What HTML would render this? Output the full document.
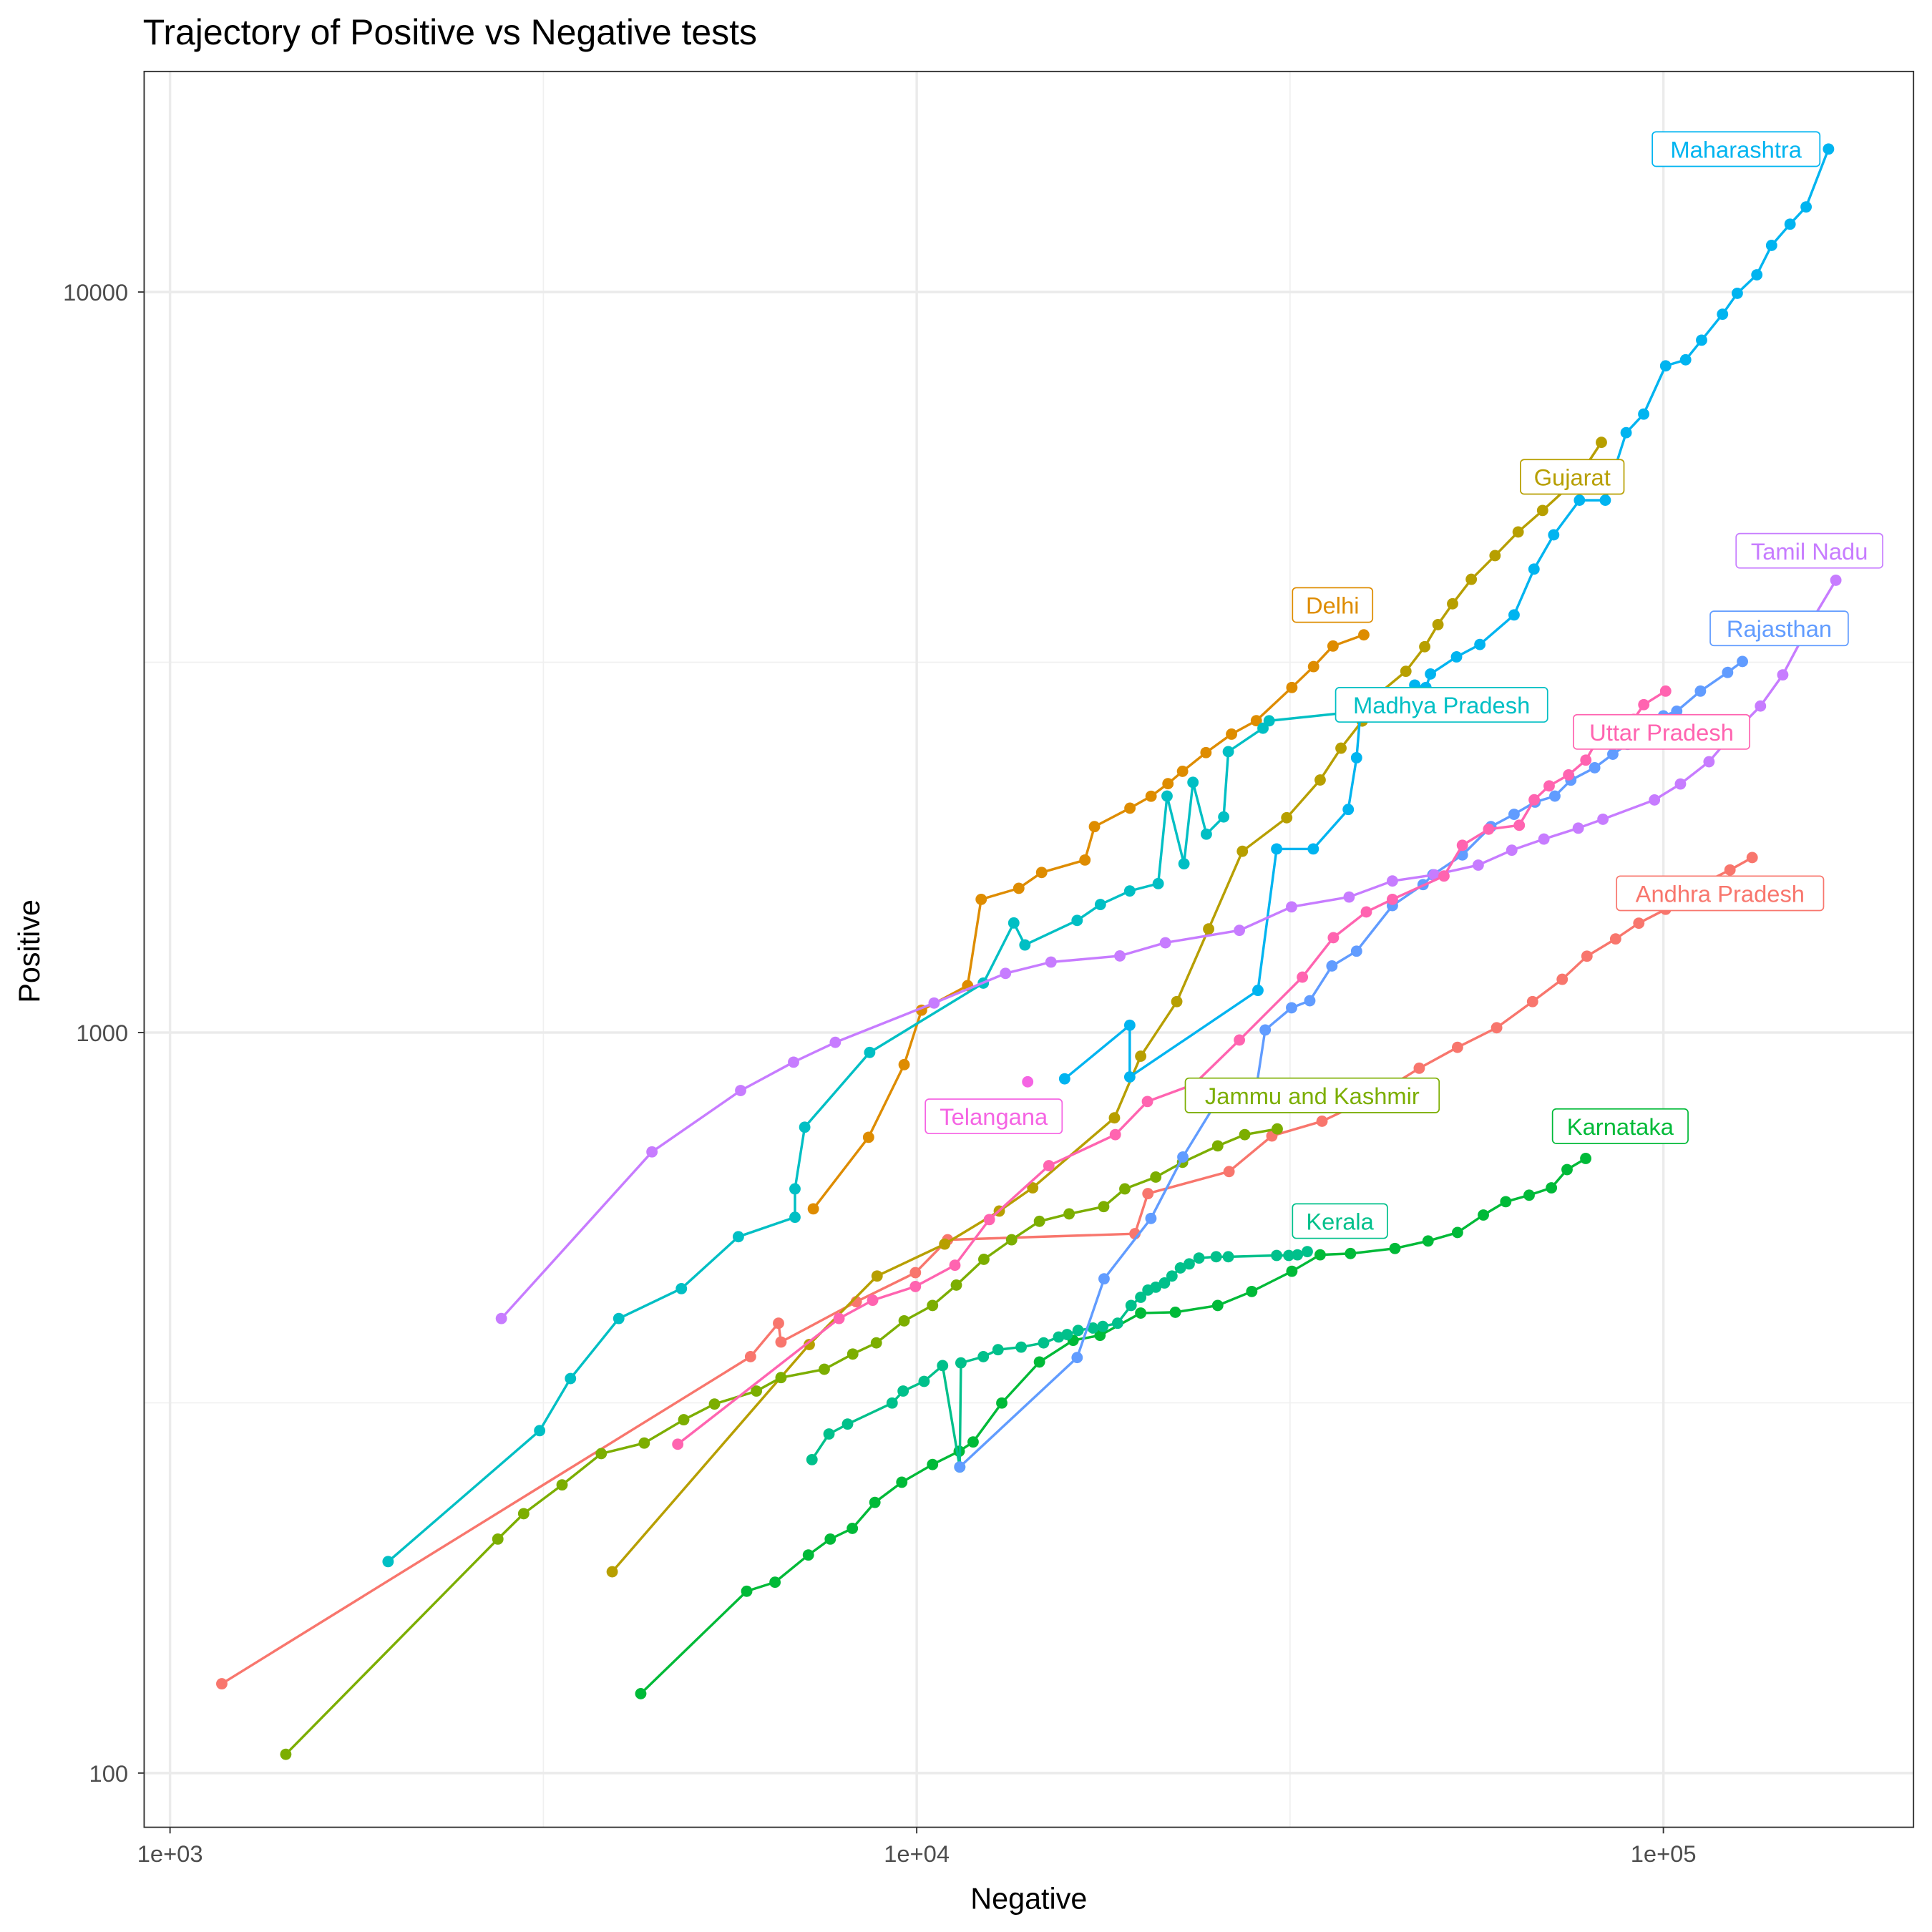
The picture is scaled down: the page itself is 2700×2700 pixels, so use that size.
<!DOCTYPE html>
<html><head><meta charset="utf-8"><style>
html,body{margin:0;padding:0;background:#fff;}
svg{display:block;}
text{font-family:"Liberation Sans",sans-serif;}
</style></head><body>
<svg id="chart" width="2700" height="2700" viewBox="0 0 1568 1568" xmlns="http://www.w3.org/2000/svg">
<rect x="0" y="0" width="1568" height="1568" fill="#fff"/>
<text x="116" y="36" font-size="29" fill="#000">Trajectory of Positive vs Negative tests</text>
<g id="grid"></g>
<g id="series"></g>
<g id="labels"></g>
<rect x="117" y="58" width="1436" height="1425" fill="none" stroke="#333" stroke-width="1.1"/>
<g id="axes"></g>
<text x="835" y="1549" font-size="24" text-anchor="middle" fill="#000">Negative</text>
<text transform="translate(32,772) rotate(-90)" font-size="24" text-anchor="middle" fill="#000">Positive</text>
</svg>
<script>
const andhraNeg=[1173,5990,6530,6580,8300,9960,11000,19600,20400,26200,29900,34900,40600,47100,53000,59800,66800,73200,79000,86300,92700,100700,106700,112900,122800,131500];
const andhraPos=[132,365,405,382,433,474,525,535,606,649,725,759,816,895,955,1015,1101,1180,1268,1338,1405,1467,1530,1589,1658,1723];
const delhiNeg=[7270,8620,9620,10150,11700,12200,13700,14700,16800,17300,19300,20600,21700,22700,24400,26400,28500,31800,34000,36100,39700];
const delhiPos=[578,722,905,1072,1157,1513,1566,1645,1710,1897,2009,2085,2168,2253,2388,2529,2637,2924,3120,3326,3444];
const gujaratNeg=[3910,7180,8850,10900,12900,14300,18400,19950,22300,24600,27300,31300,34700,37000,39500,40800,45200,47900,49900,52200,55300,59500,63900,68900,74300,78700,82600];
const gujaratPos=[187,379,469,518,574,617,767,929,1101,1380,1757,1950,2193,2421,2634,2823,3075,3319,3555,3793,4093,4406,4742,5070,5433,5821,6266];
const jkNeg=[1429,2748,2976,3350,3780,4316,4875,5360,6100,6580,7520,8210,8830,9620,10500,11300,12300,13400,14600,16000,17800,19000,20900,22700,25300,27500,30400];
const jkPos=[106,207,224,245,270,279,300,315,328,342,351,368,381,408,428,456,494,525,556,569,582,615,638,668,703,728,741];
const karnatakaNeg=[4270,5920,6460,7160,7660,8200,8790,9550,10500,11400,11900,13000,14600,16200,17600,19950,22200,25300,28100,31800,34700,38100,43700,48400,53000,57400,61500,66100,70800,74300,78700];
const karnatakaPos=[128,176,181,197,207,214,232,247,261,272,280,316,359,384,390,418,419,428,447,476,501,503,511,523,537,567,591,603,617,653,676];
const keralaNeg=[7240,7630,8080,9270,9590,10230,10830,11420,11460,12280,12850,13800,14790,15490,15900,16450,17220,17750,18580,19370,19950,20400,20900,21470,21970,22550,23170,23880,25180,26140,30340,31500,32350,33350];
const keralaPos=[265,287,296,316,328,338,355,259,358,365,373,376,381,388,391,396,399,401,405,428,439,449,453,459,469,481,487,496,498,498,500,500,501,506];
const mpNeg=[1959,3126,3438,3990,4840,5770,6870,6870,7080,8650,12280,13490,13960,16400,17620,19290,21060,21640,22800,23440,24430,25770,26140,29090,29650,39280,41110];
const mpPos=[193,290,341,411,451,530,563,615,745,940,1166,1406,1313,1417,1489,1553,1589,2086,1690,2177,1853,1955,2395,2576,2636,2716,2813];
const mahaNeg=[15780,19290,19290,28640,30340,33970,37840,38820,39280,42860,43850,46450,48080,48760,52840,56780,63100,67100,71300,77200,83600,85900,89150,94100,100700,107100,112500,120000,125600,133400,139600,147800,155300,166400];
const mahaPos=[866,1023,871,1140,1770,1770,2001,2350,2710,2710,2846,2946,2924,3049,3216,3342,3664,4225,4700,5234,5234,5740,6457,6841,7948,8100,8610,9333,9960,10550,11560,12350,13030,15600];
const rajNeg=[11420,16400,17820,20590,22720,25060,28530,29290,31770,33610,35980,38820,43360,47660,49110,53800,58750,63100,67310,71560,75170,80910,85560,89560,100000,104200,112100,121900,127600];
const rajPos=[259,364,465,561,679,798,848,1008,1080,1104,1230,1288,1484,1584,1633,1737,1897,1971,2047,2086,2192,2278,2376,2450,2677,2716,2891,3064,3170];
const tnNeg=[2778,4420,5810,6840,7780,10550,13150,15130,18710,21530,27050,31770,37940,43360,49330,56500,62660,69180,76910,82990,97290,105400,115100,122800,134900,144500,157100,170200];
const tnPos=[411,690,835,912,970,1096,1202,1245,1269,1322,1374,1478,1524,1602,1633,1683,1763,1825,1888,1941,2061,2166,2321,2506,2760,3041,3565,4081];
const telNeg=[14080];
const telPos=[858];
const upNeg=[4786,7870,8730,9960,11250,12510,15030,18450,20370,23500,27050,32850,36140,40010,43360,50830,53800,58340,64120,67140,70310,74650,78730,82060,91260,94130,100700];
const upPos=[278,411,435,454,485,559,661,728,807,851,977,1188,1343,1455,1513,1627,1790,1882,1905,2062,2153,2228,2333,2509,2648,2772,2891];
const xTicks=[1000,10000,100000];
const xTickLabels=["1e+03","1e+04","1e+05"];
const yTicks=[100,1000,10000];
const yTickLabels=["100","1000","10000"];

const NS="http://www.w3.org/2000/svg";
function xs(v){return 138+606*(Math.log10(v)-3);}
function ys(v){return 237+601*(4-Math.log10(v));}
function mk(tag,parent,attrs){const e=document.createElementNS(NS,tag);for(const k in attrs)e.setAttribute(k,attrs[k]);parent.appendChild(e);return e;}

const grid=document.getElementById('grid');
[3.5,4.5].forEach(l=>{const e=mk('line',grid,{x1:xs(Math.pow(10,l)),x2:xs(Math.pow(10,l)),y1:58,y2:1483,stroke:'#f0f0f0','stroke-width':1});

});
[2.5,3.5].forEach(l=>{const e=mk('line',grid,{x1:117,x2:1553,y1:ys(Math.pow(10,l)),y2:ys(Math.pow(10,l)),stroke:'#f0f0f0','stroke-width':1});

});
xTicks.forEach(v=>{const e=mk('line',grid,{x1:xs(v),x2:xs(v),y1:58,y2:1483,stroke:'#ebebeb','stroke-width':2});

});
yTicks.forEach(v=>{const e=mk('line',grid,{x1:117,x2:1553,y1:ys(v),y2:ys(v),stroke:'#ebebeb','stroke-width':2});

});

const axes=document.getElementById('axes');
xTicks.forEach((v,i)=>{const t=mk('line',axes,{x1:xs(v),x2:xs(v),y1:1483,y2:1488,stroke:'#333','stroke-width':1.1});


const l=mk('text',axes,{x:xs(v),y:1511,'font-size':19,'text-anchor':'middle',fill:'#4d4d4d'});l.textContent=xTickLabels[i];

});
yTicks.forEach((v,i)=>{const t=mk('line',axes,{x1:112,x2:117,y1:ys(v),y2:ys(v),stroke:'#333','stroke-width':1.1});


const l=mk('text',axes,{x:104,y:ys(v)+7,'font-size':19,'text-anchor':'end',fill:'#4d4d4d'});l.textContent=yTickLabels[i];

});

const seriesList=[
 ['Andhra Pradesh','#F8766D',andhraNeg,andhraPos,[1312,711,168]],
 ['Delhi','#DE8C00',delhiNeg,delhiPos,[1049,477,65]],
 ['Gujarat','#B79F00',gujaratNeg,gujaratPos,[1234,373,84]],
 ['Jammu and Kashmir','#7CAE00',jkNeg,jkPos,[962,875,206]],
 ['Karnataka','#00BA38',karnatakaNeg,karnatakaPos,[1260,900,110]],
 ['Kerala','#00C08B',keralaNeg,keralaPos,[1049,977,77]],
 ['Madhya Pradesh','#00BFC4',mpNeg,mpPos,[1084,558,172]],
 ['Maharashtra','#00B4F0',mahaNeg,mahaPos,[1341,107,136]],
 ['Rajasthan','#619CFF',rajNeg,rajPos,[1388,496,112]],
 ['Tamil Nadu','#C77CFF',tnNeg,tnPos,[1409,433,119]],
 ['Telangana','#F564E3',telNeg,telPos,[751,892,111]],
 ['Uttar Pradesh','#FF64B0',upNeg,upPos,[1277,580,143]]
];
const sg=document.getElementById('series');
const lg=document.getElementById('labels');
seriesList.forEach(s=>{
 const [name,col,nx,py,lab]=s;
 const slug=name.toLowerCase().replace(/ /g,'-');
 const g=mk('g',sg,{});
 
 
 if(nx.length>1){
  const pts=nx.map((v,i)=>xs(v).toFixed(1)+','+ys(py[i]).toFixed(1)).join(' ');
  const pl=mk('polyline',g,{points:pts,fill:'none',stroke:col,'stroke-width':2,'stroke-linejoin':'round'});
  
  
 }
 nx.forEach((v,i)=>{
  const c=mk('circle',g,{cx:xs(v),cy:ys(py[i]),r:4.6,fill:col});
  
  
 });
 const lgp=mk('g',lg,{});
 
 
 mk('rect',lgp,{x:lab[0],y:lab[1],width:lab[2],height:28,rx:3,fill:'#fff',stroke:col,'stroke-width':1});
 const t=mk('text',lgp,{x:lab[0]+lab[2]/2,y:lab[1]+21,'font-size':19,'text-anchor':'middle',fill:col});
 t.textContent=name;
});
</script>
</body></html>
